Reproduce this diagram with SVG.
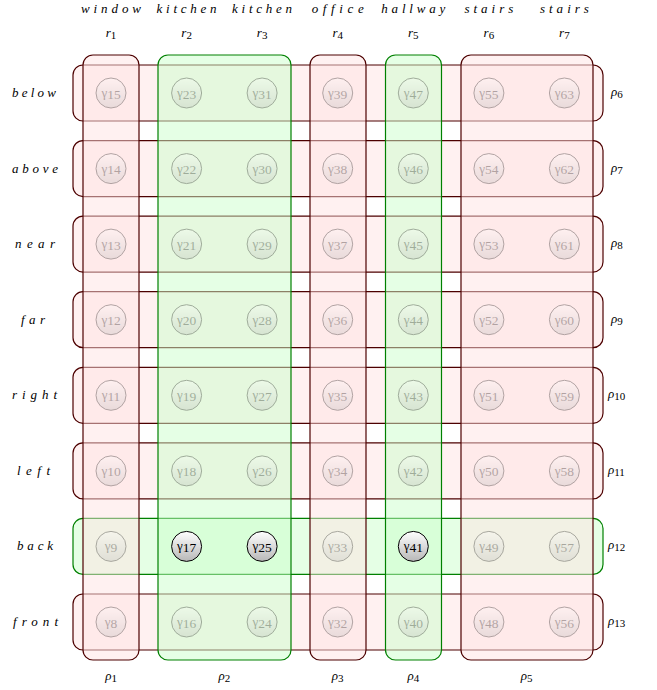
<svg xmlns="http://www.w3.org/2000/svg" width="657" height="690" viewBox="0 0 657 690">
<defs>
<linearGradient id="ng" x1="0" y1="0" x2="0" y2="1">
<stop offset="0" stop-color="#ffffff"/>
<stop offset="1" stop-color="#b8b8b8"/>
</linearGradient>
<style>
.rbox{fill:#ffe4e4;fill-opacity:0.5;stroke:#4d0000;stroke-width:1.2}
.gbox{fill:#ccffcc;fill-opacity:0.5;stroke:#008000;stroke-width:1.2}
.nd circle{fill:url(#ng);stroke:#000;stroke-width:1}
.nd text{font-family:"Liberation Serif",serif;font-size:13px;text-anchor:middle;fill:#000}
.nd tspan{font-size:13.5px}
.fd{opacity:0.3}
.lbl{font-family:"Liberation Serif",serif;font-style:italic;font-size:13px;fill:#000}
.sub{font-style:normal;font-size:11px}
</style>
</defs>
<rect width="657" height="690" fill="#fff"/>
<!-- row boxes -->
<g id="box-rho6"><rect class="rbox" x="73" y="65" width="530" height="56" rx="10"/></g>
<g id="box-rho7"><rect class="rbox" x="73" y="140.6" width="530" height="56" rx="10"/></g>
<g id="box-rho8"><rect class="rbox" x="73" y="216.1" width="530" height="56" rx="10"/></g>
<g id="box-rho9"><rect class="rbox" x="73" y="291.7" width="530" height="56" rx="10"/></g>
<g id="box-rho10"><rect class="rbox" x="73" y="367.3" width="530" height="56" rx="10"/></g>
<g id="box-rho11"><rect class="rbox" x="73" y="442.9" width="530" height="56" rx="10"/></g>
<g id="box-rho12"><rect class="gbox" x="73" y="518.4" width="530" height="56" rx="10"/></g>
<g id="box-rho13"><rect class="rbox" x="73" y="594" width="530" height="56" rx="10"/></g>
<!-- column boxes -->
<g id="box-rho1"><rect class="rbox" x="83" y="55" width="56" height="605" rx="10"/></g>
<g id="box-rho2"><rect class="gbox" x="158" y="55" width="133" height="605" rx="10"/></g>
<g id="box-rho3"><rect class="rbox" x="310" y="55" width="56" height="605" rx="10"/></g>
<g id="box-rho4"><rect class="gbox" x="385.5" y="55" width="56" height="605" rx="10"/></g>
<g id="box-rho5"><rect class="rbox" x="461" y="55" width="132" height="605" rx="10"/></g>
<g id="connectors"/>
<!-- nodes -->
<g id="nodes">
<g id="n15" class="nd fd"><circle cx="111" cy="93" r="15"/><text x="111" y="97">γ<tspan dy="1.5">15</tspan></text></g>
<g id="n14" class="nd fd"><circle cx="111" cy="168.6" r="15"/><text x="111" y="172.6">γ<tspan dy="1.5">14</tspan></text></g>
<g id="n13" class="nd fd"><circle cx="111" cy="244.1" r="15"/><text x="111" y="248.1">γ<tspan dy="1.5">13</tspan></text></g>
<g id="n12" class="nd fd"><circle cx="111" cy="319.7" r="15"/><text x="111" y="323.7">γ<tspan dy="1.5">12</tspan></text></g>
<g id="n11" class="nd fd"><circle cx="111" cy="395.3" r="15"/><text x="111" y="399.3">γ<tspan dy="1.5">11</tspan></text></g>
<g id="n10" class="nd fd"><circle cx="111" cy="470.9" r="15"/><text x="111" y="474.9">γ<tspan dy="1.5">10</tspan></text></g>
<g id="n9" class="nd fd"><circle cx="111" cy="546.4" r="15"/><text x="111" y="550.4">γ<tspan dy="1.5">9</tspan></text></g>
<g id="n8" class="nd fd"><circle cx="111" cy="622" r="15"/><text x="111" y="626">γ<tspan dy="1.5">8</tspan></text></g>

<g id="n23" class="nd fd"><circle cx="186.6" cy="93" r="15"/><text x="186.6" y="97">γ<tspan dy="1.5">23</tspan></text></g>
<g id="n22" class="nd fd"><circle cx="186.6" cy="168.6" r="15"/><text x="186.6" y="172.6">γ<tspan dy="1.5">22</tspan></text></g>
<g id="n21" class="nd fd"><circle cx="186.6" cy="244.1" r="15"/><text x="186.6" y="248.1">γ<tspan dy="1.5">21</tspan></text></g>
<g id="n20" class="nd fd"><circle cx="186.6" cy="319.7" r="15"/><text x="186.6" y="323.7">γ<tspan dy="1.5">20</tspan></text></g>
<g id="n19" class="nd fd"><circle cx="186.6" cy="395.3" r="15"/><text x="186.6" y="399.3">γ<tspan dy="1.5">19</tspan></text></g>
<g id="n18" class="nd fd"><circle cx="186.6" cy="470.9" r="15"/><text x="186.6" y="474.9">γ<tspan dy="1.5">18</tspan></text></g>
<g id="n17" class="nd"><circle cx="186.6" cy="546.4" r="15"/><text x="186.6" y="550.4">γ<tspan dy="1.5">17</tspan></text></g>
<g id="n16" class="nd fd"><circle cx="186.6" cy="622" r="15"/><text x="186.6" y="626">γ<tspan dy="1.5">16</tspan></text></g>

<g id="n31" class="nd fd"><circle cx="262.1" cy="93" r="15"/><text x="262.1" y="97">γ<tspan dy="1.5">31</tspan></text></g>
<g id="n30" class="nd fd"><circle cx="262.1" cy="168.6" r="15"/><text x="262.1" y="172.6">γ<tspan dy="1.5">30</tspan></text></g>
<g id="n29" class="nd fd"><circle cx="262.1" cy="244.1" r="15"/><text x="262.1" y="248.1">γ<tspan dy="1.5">29</tspan></text></g>
<g id="n28" class="nd fd"><circle cx="262.1" cy="319.7" r="15"/><text x="262.1" y="323.7">γ<tspan dy="1.5">28</tspan></text></g>
<g id="n27" class="nd fd"><circle cx="262.1" cy="395.3" r="15"/><text x="262.1" y="399.3">γ<tspan dy="1.5">27</tspan></text></g>
<g id="n26" class="nd fd"><circle cx="262.1" cy="470.9" r="15"/><text x="262.1" y="474.9">γ<tspan dy="1.5">26</tspan></text></g>
<g id="n25" class="nd"><circle cx="262.1" cy="546.4" r="15"/><text x="262.1" y="550.4">γ<tspan dy="1.5">25</tspan></text></g>
<g id="n24" class="nd fd"><circle cx="262.1" cy="622" r="15"/><text x="262.1" y="626">γ<tspan dy="1.5">24</tspan></text></g>

<g id="n39" class="nd fd"><circle cx="337.7" cy="93" r="15"/><text x="337.7" y="97">γ<tspan dy="1.5">39</tspan></text></g>
<g id="n38" class="nd fd"><circle cx="337.7" cy="168.6" r="15"/><text x="337.7" y="172.6">γ<tspan dy="1.5">38</tspan></text></g>
<g id="n37" class="nd fd"><circle cx="337.7" cy="244.1" r="15"/><text x="337.7" y="248.1">γ<tspan dy="1.5">37</tspan></text></g>
<g id="n36" class="nd fd"><circle cx="337.7" cy="319.7" r="15"/><text x="337.7" y="323.7">γ<tspan dy="1.5">36</tspan></text></g>
<g id="n35" class="nd fd"><circle cx="337.7" cy="395.3" r="15"/><text x="337.7" y="399.3">γ<tspan dy="1.5">35</tspan></text></g>
<g id="n34" class="nd fd"><circle cx="337.7" cy="470.9" r="15"/><text x="337.7" y="474.9">γ<tspan dy="1.5">34</tspan></text></g>
<g id="n33" class="nd fd"><circle cx="337.7" cy="546.4" r="15"/><text x="337.7" y="550.4">γ<tspan dy="1.5">33</tspan></text></g>
<g id="n32" class="nd fd"><circle cx="337.7" cy="622" r="15"/><text x="337.7" y="626">γ<tspan dy="1.5">32</tspan></text></g>

<g id="n47" class="nd fd"><circle cx="413.3" cy="93" r="15"/><text x="413.3" y="97">γ<tspan dy="1.5">47</tspan></text></g>
<g id="n46" class="nd fd"><circle cx="413.3" cy="168.6" r="15"/><text x="413.3" y="172.6">γ<tspan dy="1.5">46</tspan></text></g>
<g id="n45" class="nd fd"><circle cx="413.3" cy="244.1" r="15"/><text x="413.3" y="248.1">γ<tspan dy="1.5">45</tspan></text></g>
<g id="n44" class="nd fd"><circle cx="413.3" cy="319.7" r="15"/><text x="413.3" y="323.7">γ<tspan dy="1.5">44</tspan></text></g>
<g id="n43" class="nd fd"><circle cx="413.3" cy="395.3" r="15"/><text x="413.3" y="399.3">γ<tspan dy="1.5">43</tspan></text></g>
<g id="n42" class="nd fd"><circle cx="413.3" cy="470.9" r="15"/><text x="413.3" y="474.9">γ<tspan dy="1.5">42</tspan></text></g>
<g id="n41" class="nd"><circle cx="413.3" cy="546.4" r="15"/><text x="413.3" y="550.4">γ<tspan dy="1.5">41</tspan></text></g>
<g id="n40" class="nd fd"><circle cx="413.3" cy="622" r="15"/><text x="413.3" y="626">γ<tspan dy="1.5">40</tspan></text></g>

<g id="n55" class="nd fd"><circle cx="488.9" cy="93" r="15"/><text x="488.9" y="97">γ<tspan dy="1.5">55</tspan></text></g>
<g id="n54" class="nd fd"><circle cx="488.9" cy="168.6" r="15"/><text x="488.9" y="172.6">γ<tspan dy="1.5">54</tspan></text></g>
<g id="n53" class="nd fd"><circle cx="488.9" cy="244.1" r="15"/><text x="488.9" y="248.1">γ<tspan dy="1.5">53</tspan></text></g>
<g id="n52" class="nd fd"><circle cx="488.9" cy="319.7" r="15"/><text x="488.9" y="323.7">γ<tspan dy="1.5">52</tspan></text></g>
<g id="n51" class="nd fd"><circle cx="488.9" cy="395.3" r="15"/><text x="488.9" y="399.3">γ<tspan dy="1.5">51</tspan></text></g>
<g id="n50" class="nd fd"><circle cx="488.9" cy="470.9" r="15"/><text x="488.9" y="474.9">γ<tspan dy="1.5">50</tspan></text></g>
<g id="n49" class="nd fd"><circle cx="488.9" cy="546.4" r="15"/><text x="488.9" y="550.4">γ<tspan dy="1.5">49</tspan></text></g>
<g id="n48" class="nd fd"><circle cx="488.9" cy="622" r="15"/><text x="488.9" y="626">γ<tspan dy="1.5">48</tspan></text></g>

<g id="n63" class="nd fd"><circle cx="564.4" cy="93" r="15"/><text x="564.4" y="97">γ<tspan dy="1.5">63</tspan></text></g>
<g id="n62" class="nd fd"><circle cx="564.4" cy="168.6" r="15"/><text x="564.4" y="172.6">γ<tspan dy="1.5">62</tspan></text></g>
<g id="n61" class="nd fd"><circle cx="564.4" cy="244.1" r="15"/><text x="564.4" y="248.1">γ<tspan dy="1.5">61</tspan></text></g>
<g id="n60" class="nd fd"><circle cx="564.4" cy="319.7" r="15"/><text x="564.4" y="323.7">γ<tspan dy="1.5">60</tspan></text></g>
<g id="n59" class="nd fd"><circle cx="564.4" cy="395.3" r="15"/><text x="564.4" y="399.3">γ<tspan dy="1.5">59</tspan></text></g>
<g id="n58" class="nd fd"><circle cx="564.4" cy="470.9" r="15"/><text x="564.4" y="474.9">γ<tspan dy="1.5">58</tspan></text></g>
<g id="n57" class="nd fd"><circle cx="564.4" cy="546.4" r="15"/><text x="564.4" y="550.4">γ<tspan dy="1.5">57</tspan></text></g>
<g id="n56" class="nd fd"><circle cx="564.4" cy="622" r="15"/><text x="564.4" y="626">γ<tspan dy="1.5">56</tspan></text></g>
</g>
<!-- top labels -->
<g id="top-labels" class="lbl" text-anchor="middle">
<text x="111" y="13" textLength="60" lengthAdjust="spacing">window</text>
<text x="186.6" y="13" textLength="60" lengthAdjust="spacing">kitchen</text>
<text x="262.1" y="13" textLength="60" lengthAdjust="spacing">kitchen</text>
<text x="337.7" y="13" textLength="52" lengthAdjust="spacing">office</text>
<text x="413.3" y="13" textLength="64" lengthAdjust="spacing">hallway</text>
<text x="488.9" y="13" textLength="49" lengthAdjust="spacing">stairs</text>
<text x="564.4" y="13" textLength="49" lengthAdjust="spacing">stairs</text>
<text x="111" y="37">r<tspan class="sub" dy="2">1</tspan></text>
<text x="186.6" y="37">r<tspan class="sub" dy="2">2</tspan></text>
<text x="262.1" y="37">r<tspan class="sub" dy="2">3</tspan></text>
<text x="337.7" y="37">r<tspan class="sub" dy="2">4</tspan></text>
<text x="413.3" y="37">r<tspan class="sub" dy="2">5</tspan></text>
<text x="488.9" y="37">r<tspan class="sub" dy="2">6</tspan></text>
<text x="564.4" y="37">r<tspan class="sub" dy="2">7</tspan></text>
</g>
<!-- left labels -->
<g id="left-labels" class="lbl" text-anchor="middle">
<text x="34" y="97" textLength="44" lengthAdjust="spacing">below</text>
<text x="35" y="172.6" textLength="46" lengthAdjust="spacing">above</text>
<text x="35" y="248.1" textLength="40" lengthAdjust="spacing">near</text>
<text x="33" y="323.7" textLength="24" lengthAdjust="spacing">far</text>
<text x="34.5" y="399.3" textLength="45" lengthAdjust="spacing">right</text>
<text x="33.5" y="474.9" textLength="33" lengthAdjust="spacing">left</text>
<text x="35" y="550.4" textLength="36" lengthAdjust="spacing">back</text>
<text x="35.5" y="626" textLength="45" lengthAdjust="spacing">front</text>
</g>
<!-- right labels -->
<g id="right-labels" class="lbl">
<text x="611" y="96">ρ<tspan class="sub" dy="2">6</tspan></text>
<text x="611" y="171.6">ρ<tspan class="sub" dy="2">7</tspan></text>
<text x="611" y="247.1">ρ<tspan class="sub" dy="2">8</tspan></text>
<text x="611" y="322.7">ρ<tspan class="sub" dy="2">9</tspan></text>
<text x="608" y="398.3">ρ<tspan class="sub" dy="2">10</tspan></text>
<text x="608" y="473.9">ρ<tspan class="sub" dy="2">11</tspan></text>
<text x="608" y="549.4">ρ<tspan class="sub" dy="2">12</tspan></text>
<text x="608" y="625">ρ<tspan class="sub" dy="2">13</tspan></text>
</g>
<!-- bottom labels -->
<g id="bottom-labels" class="lbl" text-anchor="middle">
<text x="111" y="680">ρ<tspan class="sub" dy="2">1</tspan></text>
<text x="224.3" y="680">ρ<tspan class="sub" dy="2">2</tspan></text>
<text x="337.7" y="680">ρ<tspan class="sub" dy="2">3</tspan></text>
<text x="413.3" y="680">ρ<tspan class="sub" dy="2">4</tspan></text>
<text x="526.6" y="680">ρ<tspan class="sub" dy="2">5</tspan></text>
</g>
</svg>
